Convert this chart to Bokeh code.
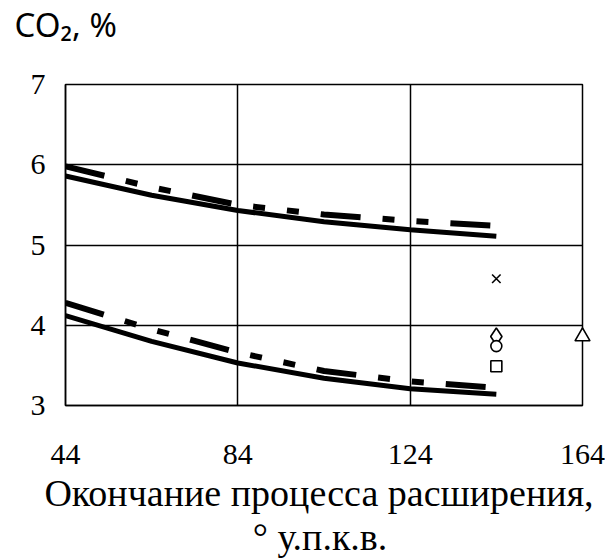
from bokeh.plotting import figure
from bokeh.models import Range1d, FixedTicker
from bokeh.core.properties import value
from bokeh.embed import file_html
from bokeh.resources import INLINE

# data
x_pts = [44, 64, 84, 104, 124, 144]
upper_solid = [5.86, 5.62, 5.43, 5.29, 5.19, 5.11]
upper_dashed = [5.98, 5.72, 5.50, 5.38, 5.30, 5.24]
lower_solid = [4.12, 3.80, 3.53, 3.34, 3.21, 3.14]
lower_dashed = [4.28, 3.95, 3.66, 3.43, 3.30, 3.22]

x_mark_x, x_mark_y = [144], [4.58]
diamond_x, diamond_y = [144], [3.86]
circle_x, circle_y = [144], [3.74]
square_x, square_y = [144], [3.49]
triangle_x, triangle_y = [164], [3.86]

x_ticks = [44, 84, 124, 164]
y_ticks = [3, 4, 5, 6, 7]

title_text = "CO₂, %"
label_line1 = "Окончание процесса расширения,"
label_line2 = "° у.п.к.в."

X_MIN, X_MAX, Y_MIN, Y_MAX = 44, 164, 3, 7

SERIF = "'Liberation Serif', 'Times New Roman', 'DejaVu Serif', serif"

p = figure(width=605, height=560, output_backend="svg", toolbar_location=None,
           x_range=Range1d(X_MIN, X_MAX), y_range=Range1d(Y_MIN, Y_MAX),
           min_border_left=65, min_border_right=23, min_border_top=84, min_border_bottom=155)

p.outline_line_color = "black"
p.outline_line_width = 1.5
p.background_fill_color = "white"
p.border_fill_color = "white"

for ax in (p.xaxis[0], p.yaxis[0]):
    ax.axis_line_color = "black"
    ax.axis_line_width = 1.5
    ax.major_tick_out = 0
    ax.major_tick_in = 0
    ax.minor_tick_out = 0
    ax.minor_tick_in = 0
    ax.major_label_text_font = SERIF
    ax.major_label_text_font_size = "30px"
    ax.major_label_text_color = "black"

p.xaxis[0].ticker = FixedTicker(ticks=x_ticks)
p.yaxis[0].ticker = FixedTicker(ticks=y_ticks)
p.xaxis[0].major_label_standoff = 39
p.yaxis[0].major_label_standoff = 20

p.xgrid.grid_line_color = "black"
p.ygrid.grid_line_color = "black"
p.xgrid.grid_line_width = 1.5
p.ygrid.grid_line_width = 1.5
p.xgrid.ticker = FixedTicker(ticks=x_ticks)
p.ygrid.ticker = FixedTicker(ticks=y_ticks)

dash = "40 22 12 22 12 22"
p.line(x_pts, upper_solid, line_color="black", line_width=5)
p.line(x_pts, upper_dashed, line_color="black", line_width=6, line_dash=dash)
p.line(x_pts, lower_solid, line_color="black", line_width=5)
p.line(x_pts, lower_dashed, line_color="black", line_width=6, line_dash=dash)

mk = dict(line_color="black", fill_color="white", line_width=1.6)
renderers = [
    p.scatter(x_mark_x, x_mark_y, marker="x", size=12, line_color="black", line_width=1.6),
    p.scatter(diamond_x, diamond_y, marker="diamond", size=17, **mk),
    p.scatter(circle_x, circle_y, marker="circle", size=11, **mk),
    p.scatter(square_x, square_y, marker="square", size=11, **mk),
    p.scatter(triangle_x, triangle_y, marker="triangle", size=15, **mk),
]

# title and axis label as unclipped text glyphs
x_mid = (X_MIN + X_MAX) / 2
renderers.append(p.text(x=[X_MIN], y=[Y_MAX], text=[title_text], x_offset=-51, y_offset=-60,
                        text_font=value("Noto Sans"), text_font_size="33px", text_color="black",
                        text_align="left", text_baseline="alphabetic"))
renderers.append(p.text(x=[x_mid], y=[Y_MIN], text=[label_line1], x_offset=-5, y_offset=87,
                        text_font=value(SERIF), text_font_size="38px", text_color="black",
                        text_align="center", text_baseline="alphabetic"))
renderers.append(p.text(x=[x_mid], y=[Y_MIN], text=[label_line2], x_offset=-4, y_offset=131,
                        text_font=value(SERIF), text_font_size="38px", text_color="black",
                        text_align="center", text_baseline="alphabetic"))
for r in renderers:
    r.level = "overlay"

open("out.html", "w").write(file_html(p, INLINE))
